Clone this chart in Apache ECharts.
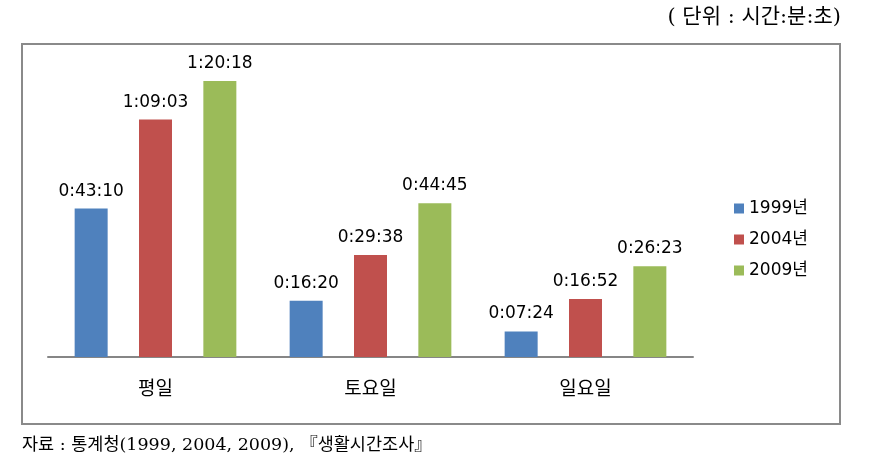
<!DOCTYPE html>
<html>
<head>
<meta charset="utf-8">
<script src="https://cdn.jsdelivr.net/npm/echarts@6/dist/echarts.min.js"></script>
<style>
  html, body { margin: 0; padding: 0; background: #fff; }
  #main { width: 875px; height: 472px; }
</style>
</head>
<body>
<div id="main"></div>
<script>
// 요일 구분
const days = ['평일', '토요일', '일요일'];
const years = ['1999년', '2004년', '2009년'];
// 시간:분:초
const t1999 = ['0:43:10', '0:16:20', '0:07:24'];
const t2004 = ['1:09:03', '0:29:38', '0:16:52'];
const t2009 = ['1:20:18', '0:44:45', '0:26:23'];
const colors = ['#4F81BD', '#C0504D', '#9BBB59'];

const toSec = s => {
    const p = s.split(':').map(Number);
    return p[0] * 3600 + p[1] * 60 + p[2];
};
const toLabel = v => {
    const h = Math.floor(v / 3600);
    const m = Math.floor((v % 3600) / 60);
    const s = v % 60;
    return h + ':' + String(m).padStart(2, '0') + ':' + String(s).padStart(2, '0');
};

const font = '"DejaVu Sans", "Noto Sans CJK KR", sans-serif';
const serif = '"DejaVu Serif", "Noto Sans CJK KR", serif';
const myChart = echarts.init(document.getElementById('main'));

const makeSeries = (name, arr, i) => ({
    name: name,
    type: 'bar',
    data: arr.map(toSec),
    barWidth: 33,
    barGap: '95%',
    itemStyle: { color: colors[i] },
    label: {
        show: true,
        position: 'top',
        distance: 9,
        color: '#000',
        fontSize: 17,
        fontFamily: font,
        formatter: p => toLabel(p.value)
    }
});

const option = {
    animation: false,
    grid: { left: 48, right: 182, top: 70.5, height: 286.5 },
    graphic: [
        {
            type: 'rect',
            shape: { x: 22, y: 44, width: 818, height: 380 },
            style: { fill: 'none', stroke: '#8a8a8a', lineWidth: 2 }
        },
        {
            type: 'text',
            right: 34, top: 7,
            style: { text: '( 단위 : 시간:분:초)', fontSize: 21, fontFamily: serif, fill: '#000' }
        },
        {
            type: 'text',
            left: 22, top: 437,
            style: { text: '자료 : 통계청(1999, 2004, 2009), 『생활시간조사』', fontSize: 17.5, fontFamily: serif, fill: '#000' }
        }
    ],
    legend: {
        orient: 'vertical',
        left: 729,
        top: 195,
        itemWidth: 10,
        itemHeight: 10,
        itemGap: 14,
        icon: 'rect',
        data: years,
        textStyle: { fontSize: 17, fontFamily: font, color: '#000' }
    },
    xAxis: {
        type: 'category',
        data: days,
        axisLine: { lineStyle: { color: '#868686', width: 2 } },
        axisTick: { length: 7, lineStyle: { color: '#868686', width: 2 } },
        axisLabel: { fontSize: 19, fontFamily: font, color: '#000', margin: 24 }
    },
    yAxis: {
        type: 'value',
        min: 0,
        max: 5000,
        show: false
    },
    series: [
        makeSeries(years[0], t1999, 0),
        makeSeries(years[1], t2004, 1),
        makeSeries(years[2], t2009, 2)
    ]
};

myChart.setOption(option);
</script>
</body>
</html>
